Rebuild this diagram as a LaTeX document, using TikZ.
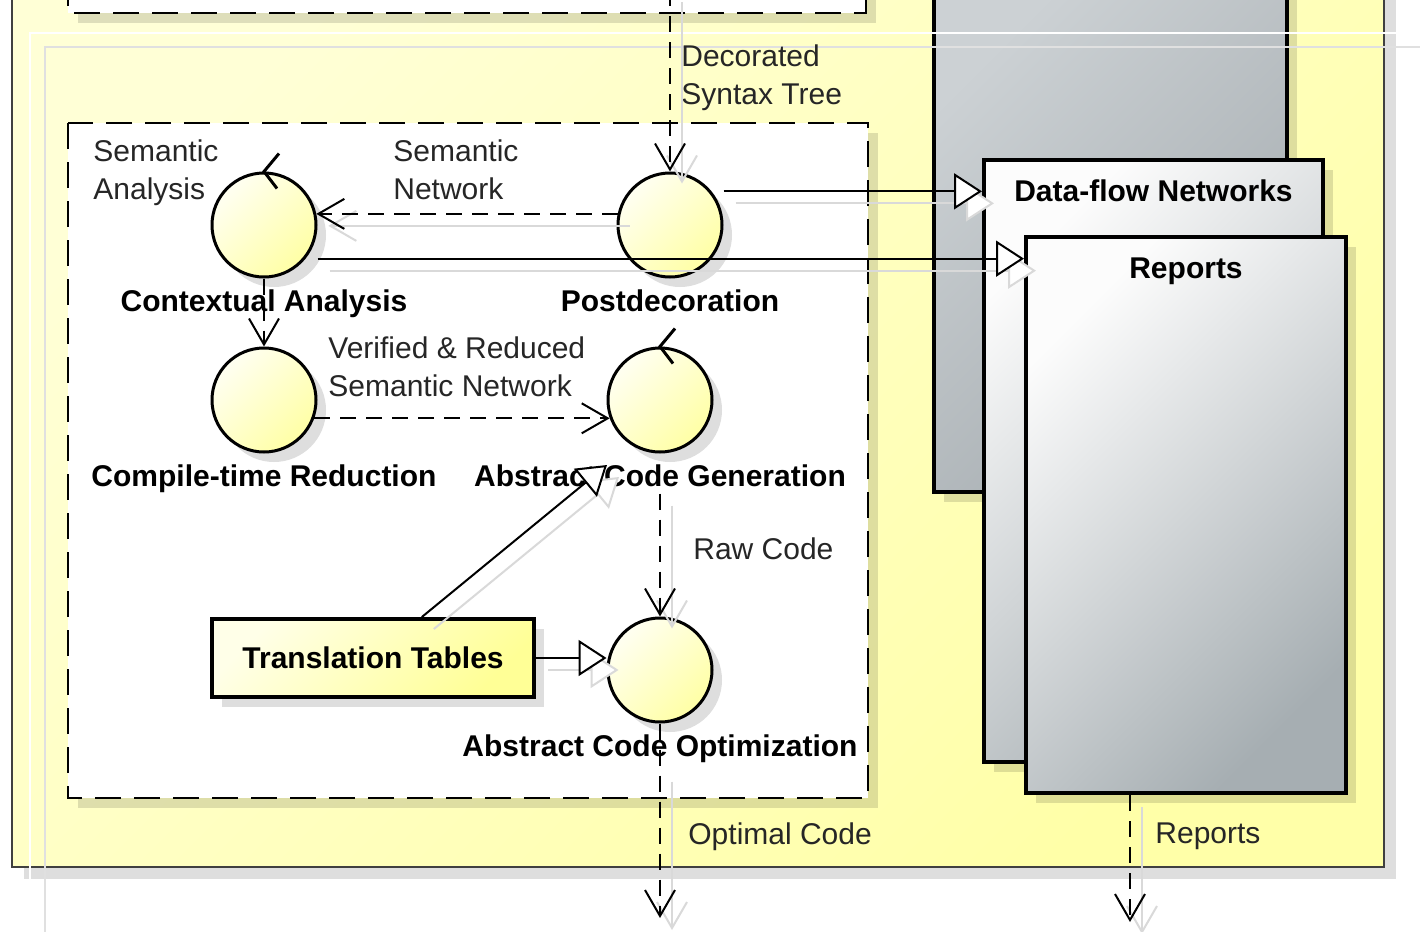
\documentclass[tikz,border=0pt]{standalone}
\usepackage{fontspec}
\setmainfont{Liberation Sans}
\usetikzlibrary{arrows.meta, positioning, calc, shadows}
\definecolor{pkgtop}{RGB}{255,255,214}
\definecolor{pkgbot}{RGB}{255,255,168}
\definecolor{ctltop}{RGB}{255,255,242}
\definecolor{ctlbot}{RGB}{255,255,165}
\definecolor{tbltop}{RGB}{255,255,232}
\definecolor{tblbot}{RGB}{255,255,150}
\definecolor{arttop}{RGB}{252,252,252}
\definecolor{artbot}{RGB}{166,174,178}
\definecolor{grptop}{RGB}{204,209,212}
\definecolor{grpbot}{RGB}{164,171,175}

\begin{document}
\begin{tikzpicture}[x=0.5pt, y=-0.5pt,
  every node/.style={font=\fontsize{15}{19}\selectfont},
  elname/.style={font=\fontsize{15}{19}\selectfont\bfseries},
  note/.style={anchor=north west, inner sep=0pt, align=left, text=black!85},
  dshadow/.style={drop shadow={shadow xshift=5pt, shadow yshift=-5pt, fill=black, opacity=.13}},
  ctl/.style={circle, draw, line width=1.5pt, minimum size=52pt, inner sep=0pt,
    top color=ctltop, bottom color=ctlbot, shading angle=45, dshadow},
  artifact/.style={rectangle, draw, line width=2pt, top color=arttop, bottom color=artbot,
    shading angle=45, dshadow},
  tbl/.style={rectangle, draw, line width=2pt, minimum width=161pt, minimum height=39pt,
    top color=tbltop, bottom color=tblbot, shading angle=45, dshadow, elname},
  boundary/.style={draw, line width=1pt, dash pattern=on 13pt off 6.5pt, fill=white, dshadow},
  dep/.style={line width=1pt, dash pattern=on 8pt off 5pt,
    -{Straight Barb[length=13pt, width=15pt, line width=1pt]}},
  real/.style={line width=1pt, -{Triangle[length=14pt, width=18pt, line width=1pt, fill=white]}},
  ghost/.style={solid, draw=black!15, transform canvas={xshift=6pt, yshift=-6pt}}
]
\useasboundingbox (0,0) rectangle (1420,932);
\fill[white] (0,0) rectangle (1420,932);

% packages
\draw[draw=black!75, line width=0.8pt, top color=pkgtop, bottom color=pkgbot, shading angle=45,
  drop shadow={shadow xshift=6pt, shadow yshift=-6pt, fill=black, opacity=.13}]
  (12,-20) rectangle (1384,867);
\draw[boundary] (68,-20) rectangle (866,13);
\draw[boundary] (68,123) rectangle (868,798);
\draw[line width=2pt, top color=grptop, bottom color=grpbot, shading angle=45, dshadow]
  (934,-20) rectangle (1287,492);
\draw[white, line width=1.2pt] (30,881) -- (30,33) -- (1396,33);
\draw[black!12, line width=1pt] (45,932) -- (45,47) -- (1420,47);

% artifacts
\node[artifact, minimum width=169.5pt, minimum height=301pt] (df) at (1153.5,461) {};
\node[elname, below=7.5pt of df.north] (df-lbl) {Data-flow Networks};
\node[artifact, minimum width=160pt, minimum height=278pt] (rp) at (1186,515) {};
\node[elname, below=8pt of rp.north] (rp-lbl) {Reports};

% controls
\node[ctl] (ca) at (264,225) {};
\node[ctl] (pd) at (670,225) {};
\node[ctl] (ctr) at (264,400) {};
\node[ctl] (acg) at (660,400) {};
\node[ctl] (aco) at (660,670) {};
\draw[line width=1.5pt] (ca.north) ++(15,-18) -- (ca.north) -- ++(13,17);
\draw[line width=1.5pt] (acg.north) ++(15,-18) -- (acg.north) -- ++(13,17);

\node[elname, below=2pt of ca] (ca-lbl) {Contextual Analysis};
\node[elname, below=2pt of pd] (pd-lbl) {Postdecoration};
\node[elname, below=2pt of ctr] (ctr-lbl) {Compile-time Reduction};
\node[elname, below=2pt of acg] (acg-lbl) {Abstract Code Generation};
\node[elname, below=2pt of aco] (aco-lbl) {Abstract Code Optimization};

\node[tbl] (tt) at (373,658) {Translation Tables};

% labels
\node[note] (sa-lbl) at (93,139) {Semantic\\Analysis};
\node[note] (dst-lbl) at (681,44) {Decorated\\Syntax Tree};
\node[note] (sn-lbl) at (393,139) {Semantic\\Network};
\node[note] (vr-lbl) at (328,336) {Verified \& Reduced\\Semantic Network};
\node[note] (rc-lbl) at (693,537) {Raw Code};
\node[note] (oc-lbl) at (688,822) {Optimal Code};
\node[note] (rpo-lbl) at (1155,822) {Reports};

% connectors
\coordinate (dst) at (670,-10);
\coordinate (acg-in) at (607,465);
\coordinate (oc-out) at (660,918);
\coordinate (rp-out) at (1130,922);
\draw[dep, ghost] (dst) -- (pd.north);
\draw[dep, ghost] (pd.168) -- (ca.12);
\draw[real, ghost] (pd.east |- pd.39) -- (pd.39 -| df.west);
\draw[real, ghost] (ca.east |- ca.-39) -- (ca.-39 -| rp.west);
\draw[real, ghost] (tt.40) -- (acg-in);
\draw[real, ghost] (tt.east) -- (tt.east -| aco.west);
\draw[dep, ghost] (acg-lbl.south) -- (aco.north);
\draw[dep, ghost] (aco-lbl.south) -- (oc-out);
\draw[dep, ghost] (rp.south -| rp-out) -- (rp-out);

\draw[dep] (dst) -- (pd.north);
\draw[dep] (pd.168) -- (ca.12);
\draw[real] (pd.east |- pd.39) -- (pd.39 -| df.west);
\draw[real] (ca.east |- ca.-39) -- (ca.-39 -| rp.west);
\draw[dep] (ca.south) -- (ctr.north);
\draw[dep] (ctr.-20) -- (acg.200);
\draw[real] (tt.40) -- (acg-in);
\draw[real] (tt.east) -- (tt.east -| aco.west);
\draw[dep] (acg-lbl.south) -- (aco.north);
\draw[dep] (aco.south) -- (oc-out);
\draw[dep] (rp.south -| rp-out) -- (rp-out);
\end{tikzpicture}
\end{document}
